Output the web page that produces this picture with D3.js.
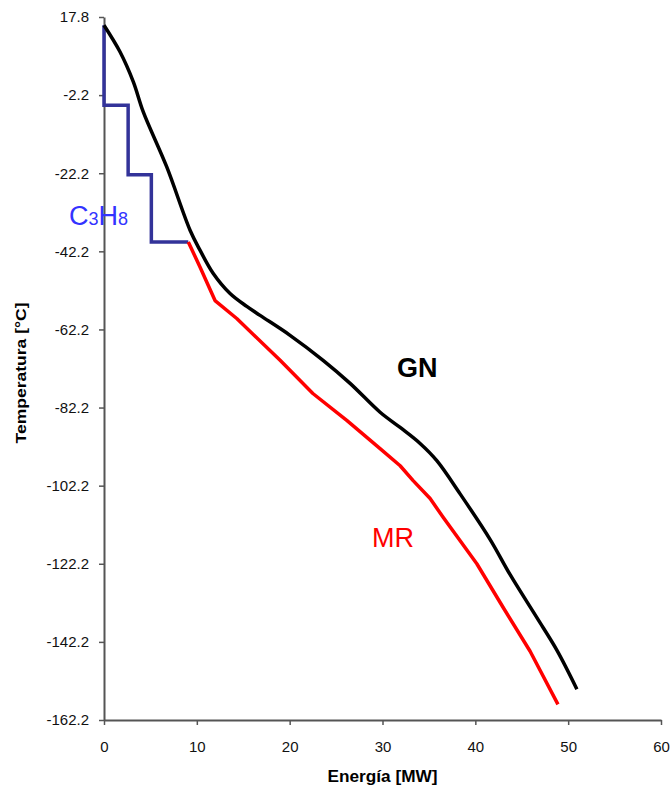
<!DOCTYPE html>
<html>
<head>
<meta charset="utf-8">
<script src="https://cdn.jsdelivr.net/npm/d3@7"></script>
<style>
  body { margin: 0; background: #fff; }
  text { font-family: "Liberation Sans", Arial, sans-serif; }
</style>
</head>
<body>
<div id="wrapper"></div>
<script>
// Energía [MW] vs Temperatura [°C]
const gnEnergy = [0, 1.72, 3.16, 4.23, 6.76, 9.27, 10.34, 11.75, 13.58, 15.38, 16.81, 20.04, 23.6, 26.51, 29.74, 31.9, 34.05, 35.85, 38.36, 41.6, 43.75, 46.63, 48.78, 50.94]
const gnTemp = [15.7, 8.9, 1.2, -6.5, -20.6, -36.8, -41.9, -47.8, -53.0, -56.3, -58.6, -63.7, -70.1, -76.0, -83.4, -87.3, -91.4, -95.8, -104.3, -116.0, -125.0, -136.0, -144.3, -154.3]

const mrEnergy = [9.08, 10.34, 11.96, 14.3, 18.97, 22.5, 26.15, 29.74, 31.9, 33.3, 35.13, 36.53, 40.16, 43.0, 45.9, 48.9]
const mrTemp = [-39.8, -46.2, -54.8, -59.4, -70.1, -78.6, -85.5, -92.7, -97.1, -100.9, -105.5, -110.3, -122.2, -133.4, -144.6, -158.2]

const c3h8Energy = [0, 0, 2.6, 2.6, 5.1, 5.1, 9.08]
const c3h8Temp = [15.7, -4.8, -4.8, -22.6, -22.6, -39.8, -39.8]

const xTicks = [0, 10, 20, 30, 40, 50, 60]
const yTicks = [17.8, -2.2, -22.2, -42.2, -62.2, -82.2, -102.2, -122.2, -142.2, -162.2]

const zip = (xs, ys) => xs.map((x, i) => ({ x: x, y: ys[i] }))

function drawChart() {
  let dimensions = {
    width: 672,
    height: 791,
    margin: { top: 17, right: 11, bottom: 71, left: 104 },
  }
  dimensions.boundedWidth = dimensions.width - dimensions.margin.left - dimensions.margin.right
  dimensions.boundedHeight = dimensions.height - dimensions.margin.top - dimensions.margin.bottom

  const wrapper = d3.select("#wrapper")
    .append("svg")
      .attr("width", dimensions.width)
      .attr("height", dimensions.height)

  const bounds = wrapper.append("g")
      .attr("transform", `translate(${dimensions.margin.left},${dimensions.margin.top})`)

  const xScale = d3.scaleLinear()
    .domain([0, 60])
    .range([0, dimensions.boundedWidth])

  const yScale = d3.scaleLinear()
    .domain([-162.2, 17.8])
    .range([dimensions.boundedHeight, 0])

  // axes
  const yAxisGenerator = d3.axisLeft(yScale)
    .tickValues(yTicks)
    .tickFormat(d => d.toFixed(1))
    .tickSize(5)
    .tickSizeOuter(0)
  const yAxis = bounds.append("g").call(yAxisGenerator)

  const xAxisGenerator = d3.axisBottom(xScale)
    .tickValues(xTicks)
    .tickSize(5)
    .tickSizeOuter(0)
  const xAxis = bounds.append("g")
    .attr("transform", `translate(0,${dimensions.boundedHeight})`)
    .call(xAxisGenerator)

  ;[xAxis, yAxis].forEach(ax => {
    ax.select(".domain").attr("stroke", "#555").attr("stroke-width", 2)
    ax.selectAll(".tick line").attr("stroke", "#555").attr("stroke-width", 1.5)
    ax.selectAll(".tick text")
      .attr("fill", "#111")
      .style("font-size", "15px")
      .style("font-family", "'Liberation Sans', Arial, sans-serif")
  })
  yAxis.selectAll(".tick text").attr("x", -15)
  xAxis.selectAll(".tick text").attr("y", 21)

  const lineGenerator = d3.line()
    .x(d => xScale(d.x))
    .y(d => yScale(d.y))

  const smoothLine = d3.line()
    .x(d => xScale(d.x))
    .y(d => yScale(d.y))
    .curve(d3.curveCatmullRom.alpha(0.5))

  bounds.append("path")
    .attr("d", lineGenerator(zip(c3h8Energy, c3h8Temp)))
    .attr("fill", "none")
    .attr("stroke", "#333399")
    .attr("stroke-width", 3.5)

  bounds.append("path")
    .attr("d", lineGenerator(zip(mrEnergy, mrTemp)))
    .attr("fill", "none")
    .attr("stroke", "#ff0000")
    .attr("stroke-width", 3.5)
    .attr("stroke-linejoin", "round")

  bounds.append("path")
    .attr("d", smoothLine(zip(gnEnergy, gnTemp)))
    .attr("fill", "none")
    .attr("stroke", "#000")
    .attr("stroke-width", 3.5)
    .attr("stroke-linejoin", "round")

  // series labels
  const c3h8 = wrapper.append("text")
    .attr("x", 69)
    .attr("y", 225)
    .attr("fill", "#3333ff")
    .style("font-size", "27px")
  c3h8.append("tspan").text("C")
  c3h8.append("tspan").text("3").style("font-size", "18px")
  c3h8.append("tspan").text("H")
  c3h8.append("tspan").text("8").style("font-size", "18px")

  wrapper.append("text")
    .attr("x", 397)
    .attr("y", 377)
    .attr("fill", "#000")
    .style("font-size", "27px")
    .style("font-weight", "bold")
    .text("GN")

  wrapper.append("text")
    .attr("x", 372)
    .attr("y", 547)
    .attr("fill", "#ff0000")
    .style("font-size", "27px")
    .text("MR")

  // axis titles
  wrapper.append("text")
    .attr("x", dimensions.margin.left + xScale(30))
    .attr("y", 782)
    .attr("text-anchor", "middle")
    .attr("textLength", 110)
    .attr("lengthAdjust", "spacingAndGlyphs")
    .style("font-size", "16px")
    .style("font-weight", "bold")
    .text("Energía [MW]")

  wrapper.append("text")
    .attr("transform", `translate(26,373) rotate(-90)`)
    .attr("text-anchor", "middle")
    .attr("textLength", 141)
    .attr("lengthAdjust", "spacingAndGlyphs")
    .style("font-size", "15px")
    .style("font-weight", "bold")
    .text("Temperatura [°C]")
}

drawChart()
</script>
</body>
</html>
